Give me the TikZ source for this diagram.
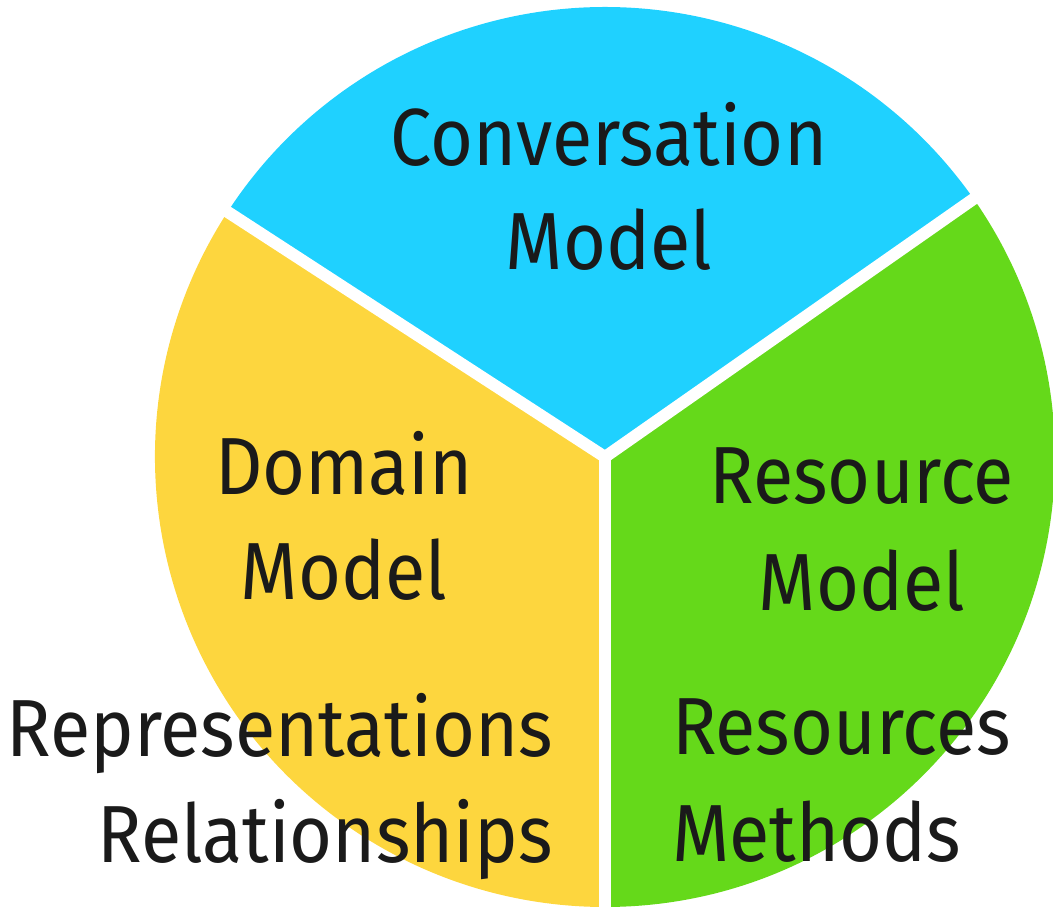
\documentclass[tikz,border=0pt]{standalone}
\usepackage{fontspec}
\setmainfont{Fira Sans}[FakeStretch=0.91]
\definecolor{convblue}{RGB}{31,209,255}
\definecolor{domyellow}{RGB}{253,214,62}
\definecolor{resgreen}{RGB}{101,217,26}
\definecolor{ink}{RGB}{26,26,26}

\begin{document}
\begin{tikzpicture}[x=1pt,y=1pt,
  lbl/.style={inner sep=0pt,text=ink,font=\fontsize{81}{106}\selectfont}]
\useasboundingbox (0,0) rectangle (1053,913);

\coordinate (hub) at (605,456);
\def\rad{450}

% the three slices
\fill[convblue] (hub) -- ++(35:\rad) arc (35:147:\rad) -- cycle;
\fill[domyellow] (hub) -- ++(147:\rad) arc (147:270:\rad) -- cycle;
\fill[resgreen] (hub) -- ++(270:\rad) arc (270:395:\rad) -- cycle;
\foreach \a in {35,147,270}
  \draw[white,line width=12pt,line cap=round] (hub) -- ++(\a:470);

% labels
\node[lbl,anchor=base] (conv) at (609,747) {Conversation};
\node[lbl,anchor=base] (convm) at (609,643) {Model};
\node[lbl,anchor=base] (dom) at (344,418) {Domain};
\node[lbl,anchor=base] (domm) at (344,313) {Model};
\node[lbl,anchor=base] (res) at (862,409) {Resource};
\node[lbl,anchor=base] (resm) at (862,302) {Model};
\node[lbl,anchor=base east] (repr) at (553,156) {Representations};
\node[lbl,anchor=base east] (rel) at (553,50) {Relationships};
\node[lbl,anchor=base west] (ress) at (672,158) {Resources};
\node[lbl,anchor=base west] (meth) at (672,51) {Methods};
\end{tikzpicture}
\end{document}
